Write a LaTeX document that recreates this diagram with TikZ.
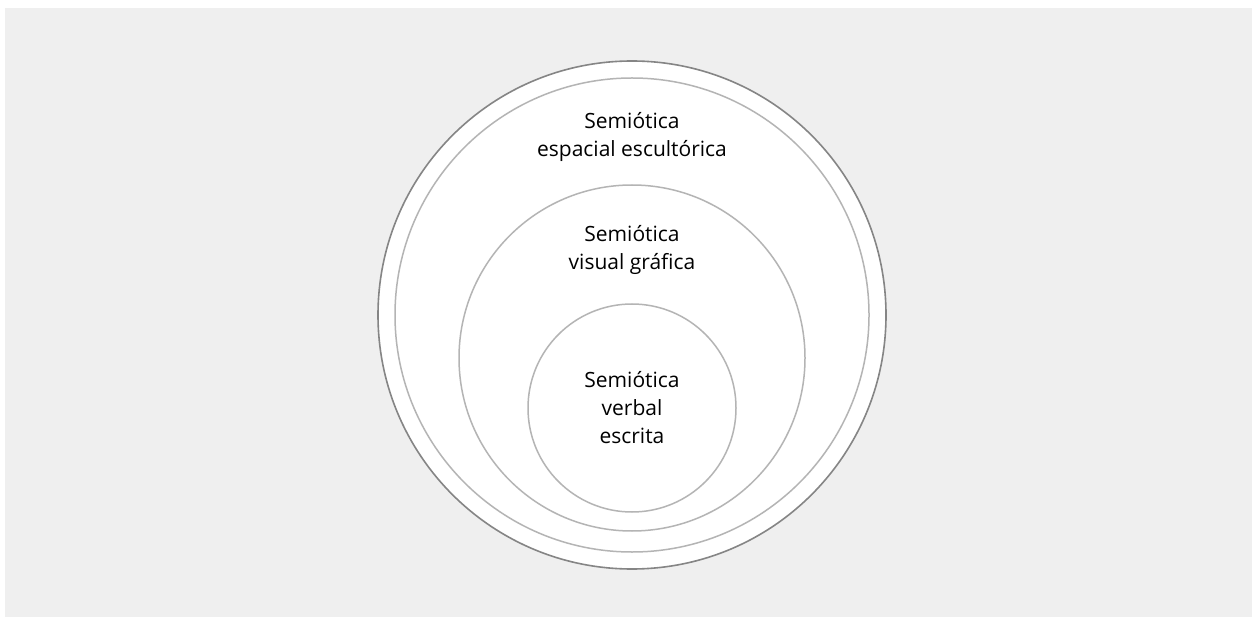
\documentclass[tikz,border=0pt]{standalone}
\usepackage{fontspec}
\setmainfont{Open Sans}
\definecolor{bg}{HTML}{EFEFEF}
\definecolor{outerline}{HTML}{858585}
\definecolor{innerline}{HTML}{B4B4B4}
\begin{document}
\begin{tikzpicture}[x=1pt,y=-1pt,
  ring/.style={draw=innerline,line width=1.5pt,fill=white},
  lbl/.style={align=center,font=\fontsize{21}{28}\selectfont,text=black,inner sep=0pt,anchor=base}]
\useasboundingbox (0,0) rectangle (1252,617);
\fill[white] (0,0) rectangle (1252,617);
\fill[bg] (5,8) rectangle (1252,617);
\draw[draw=outerline,line width=1.6pt,fill=white] (632,315) circle[radius=254];
\draw[ring] (632,315) circle[radius=237];
\draw[ring] (632,358) circle[radius=173];
\draw[ring] (632,408) circle[radius=104];
\node[lbl] (c1) at (632,157) {Semiótica\\espacial escultórica};
\node[lbl] (c2) at (632,270) {Semiótica\\visual gráfica};
\node[lbl] (c3) at (632,443) {Semiótica\\verbal\\escrita};
\end{tikzpicture}
\end{document}
